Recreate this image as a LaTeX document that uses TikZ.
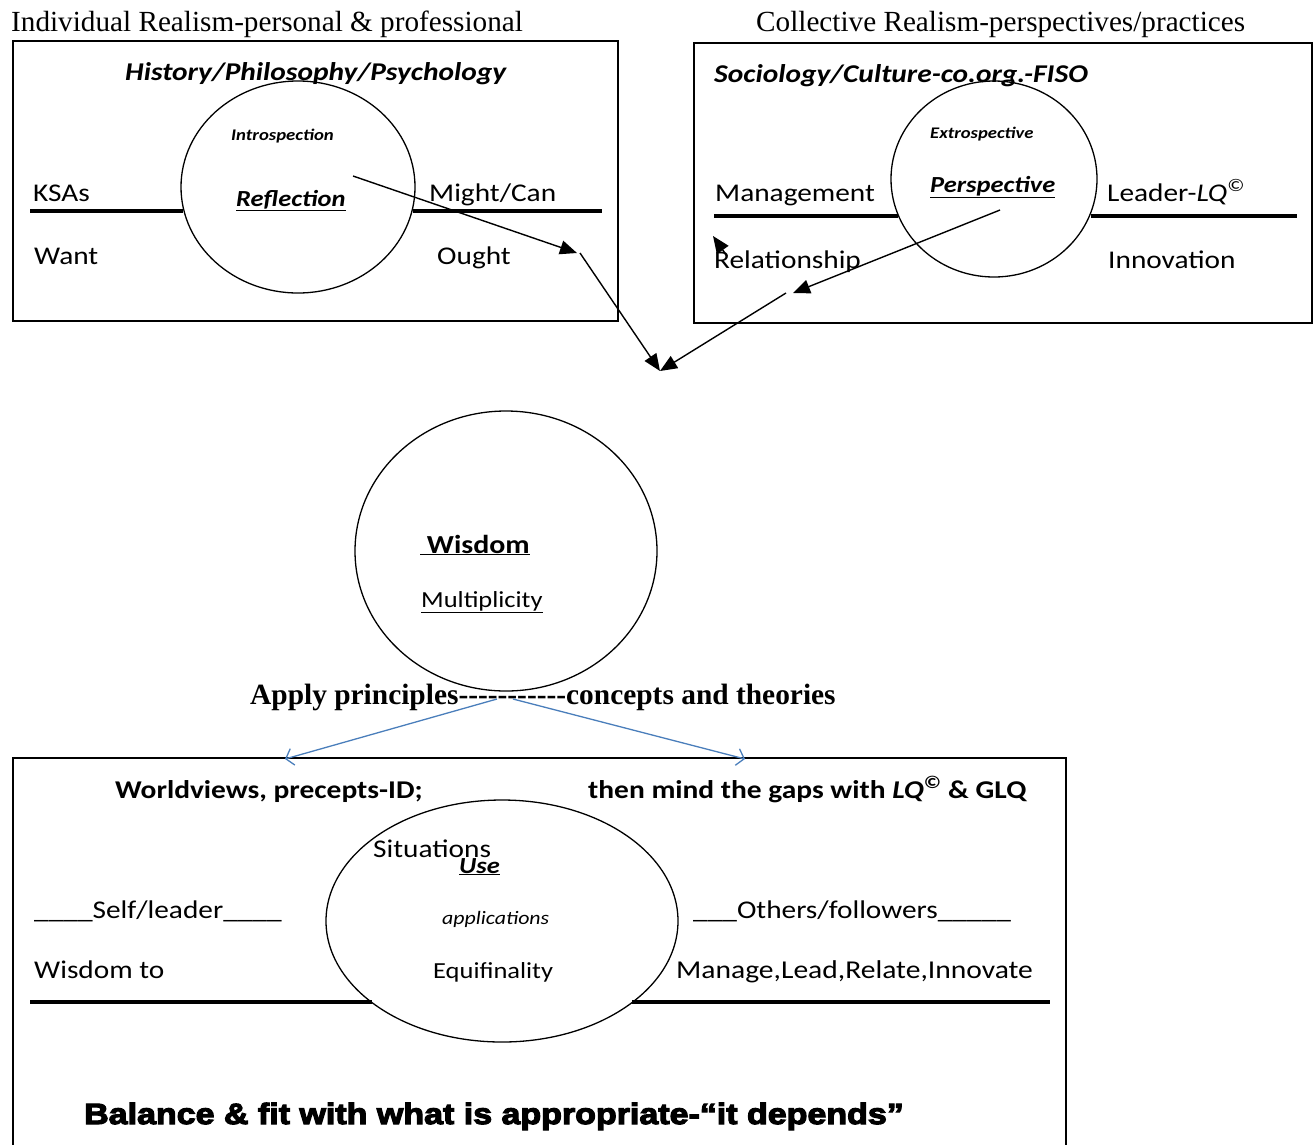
\documentclass[tikz,border=0pt]{standalone}
\usepackage{fontspec}
\setmainfont{Carlito}[FakeStretch=1.15]
\newfontfamily\tnr{Liberation Serif}
\newfontfamily\blk{Liberation Sans Bold}[FakeBold=4,FakeStretch=1.16]
\usetikzlibrary{shapes.geometric,arrows.meta}
\definecolor{arrblue}{RGB}{74,126,187}
\newcommand\fsz[1]{\fontsize{#1}{#1}\selectfont}
\tikzset{
  txt/.style={inner sep=0pt, anchor=base west},
  body/.style={txt, font=\fsz{25.5}},
  oval/.style={ellipse, draw, line width=1.3pt, inner sep=0pt},
  frame/.style={draw, line width=1.4pt},
  bar/.style={line width=3.5pt},
  blkarrow/.style={line width=1.4pt, -{Triangle[length=17pt,width=14pt]}},
  bluearrow/.style={draw=arrblue, line width=1.3pt, -{Straight Barb[length=7pt,width=17pt]}},
}
\begin{document}
\begin{tikzpicture}[x=1pt,y=-1pt]
\useasboundingbox (0,0) rectangle (1314,1144);
% headers
\node[txt, font=\tnr\fsz{29.2}] (h1) at (11,31) {Individual Realism-personal \& professional};
\node[txt, font=\tnr\fsz{29.2}] (h2) at (756,31) {Collective Realism-perspectives/practices};
% frames
\draw[frame] (13,41) rectangle (618,321);
\draw[frame] (694,43) rectangle (1312,323);
\draw[frame] (13,1160) -- (13,758) -- (1066,758) -- (1066,1160);
% box 1
\draw[bar] (30,211) -- (183,211);
\draw[bar] (413,211) -- (602,211);
\node[oval, minimum width=234pt, minimum height=212pt] (refl) at (298,187) {};
\node[txt, font=\bfseries\itshape\fsz{25.6}] (hpp) at (125,80) {History/Philosophy/Psychology};
\node[txt, font=\bfseries\itshape\fsz{16.3}] (intro) at (231,140) {Introspection};
\node[txt, font=\bfseries\itshape\fsz{23}] (reflt) at (236,206) {\underline{Reflection}};
\node[body] (ksas) at (33,201) {KSAs};
\node[body] (might) at (429,201) {Might/Can};
\node[body] (want) at (34,264) {Want};
\node[body] (ought) at (437,264) {Ought};
% box 2
\draw[bar] (714,216) -- (898,216);
\draw[bar] (1091,216) -- (1297,216);
\node[oval, minimum width=206pt, minimum height=196pt] (persp) at (994,179) {};
\node[txt, font=\bfseries\itshape\fsz{25.6}] (soc) at (714,82) {Sociology/Culture-co.org.-FISO};
\node[txt, font=\bfseries\itshape\fsz{16.2}] (extro) at (930,138) {Extrospective};
\node[txt, font=\bfseries\itshape\fsz{23}] (perspt) at (930,192) {\underline{Perspective}};
\node[body] (mgmt) at (715,201) {Management};
\node[body] (lead) at (1107,201) {Leader-\textit{LQ}\textsuperscript{©}};
\node[body] (rel) at (714,268) {Relationship};
\node[body] (innov) at (1108,268) {Innovation};
% black arrows
\coordinate (a1s) at (353,176);
\coordinate (a1e) at (577,253);
\coordinate (a2s) at (580,253);
\coordinate (meet) at (660,371);
\coordinate (b1s) at (1000,210);
\coordinate (b1e) at (793,293);
\coordinate (b2s) at (786,293);
\coordinate (strs) at (727,256);
\coordinate (stre) at (713,236);
\draw[blkarrow] (a1s) -- (a1e);
\draw[blkarrow] (a2s) -- (meet);
\draw[blkarrow] (b1s) -- (b1e);
\draw[blkarrow] (b2s) -- (meet);
\draw[blkarrow] (strs) -- (stre);
% wisdom
\node[oval, minimum width=302pt, minimum height=280pt] (wis) at (506,551) {};
\node[txt, font=\bfseries\fsz{26}] (wist) at (420,553) {\underline{\ Wisdom}};
\node[txt, font=\fsz{23}] (mult) at (421,607) {\underline{Multiplicity}};
\node[txt, font=\tnr\bfseries\fsz{29.4}] (apply) at (250,704) {Apply principles-{}-{}-{}-{}-{}-{}-{}-{}-{}-{}-concepts and theories};
% blue arrows
\coordinate (bl1) at (497,699);
\coordinate (bl2) at (513,699);
\coordinate (blL) at (285,759);
\coordinate (blR) at (745,759);
\draw[bluearrow] (bl1) -- (blL);
\draw[bluearrow] (bl2) -- (blR);
% bottom box
\draw[bar] (30,1002) -- (372,1002);
\draw[bar] (632,1002) -- (1050,1002);
\node[oval, minimum width=352pt, minimum height=242pt] (use) at (502,921) {};
\node[txt, font=\bfseries\fsz{25.6}] (world) at (115,798) {Worldviews, precepts-ID;};
\node[txt, font=\bfseries\fsz{25.6}] (gaps) at (588,798) {then mind the gaps with \textit{LQ}\textsuperscript{©} \& GLQ};
\node[body] (sit) at (373,857) {Situations};
\node[txt, font=\bfseries\itshape\fsz{23}] (uset) at (459,873) {\underline{Use}};
\node[txt, font=\itshape\fsz{19}] (appl) at (442,924) {applications};
\node[body] (self) at (34,918) {\_\_\_\_Self/leader\_\_\_\_};
\node[body] (oth) at (693,918) {\_\_\_Others/followers\_\_\_\_\_};
\node[body] (wto) at (34,978) {Wisdom to};
\node[txt, font=\fsz{23}] (equi) at (433,978) {Equifinality};
\node[txt, font=\fsz{25.7}] (mlri) at (676,978) {Manage,Lead,Relate,Innovate};
\node[txt, font=\blk\fsz{29.3}] (bal) at (84,1124) {Balance \& fit with what is appropriate-“it depends”};
\end{tikzpicture}
\end{document}
